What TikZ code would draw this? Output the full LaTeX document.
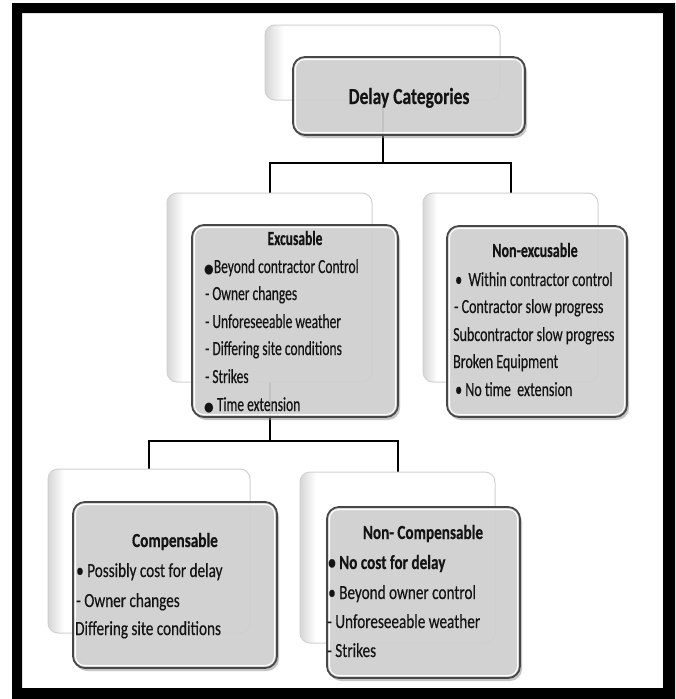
\documentclass[tikz,border=0pt]{standalone}
\usepackage{fontspec}
\setmainfont{Carlito}
\newfontfamily\fTop[FakeStretch=0.76,FakeBold=0.4]{Carlito}
\newfontfamily\fExc[FakeStretch=0.675,FakeBold=0.4]{Carlito}
\newfontfamily\fNex[FakeStretch=0.70,FakeBold=0.4]{Carlito}
\newfontfamily\fBot[FakeStretch=0.76,FakeBold=0.4]{Carlito}
\newfontfamily\fSym[FakeStretch=0.85]{DejaVu Sans}
\usetikzlibrary{shadows}
\pgfdeclarehorizontalshading{ghostshade}{100bp}{color(0bp)=(black!16); color(25bp)=(black!16); color(29bp)=(white); color(100bp)=(white)}
\newcommand{\bigdot}{{\fSym\fontsize{13}{13}\selectfont ●}}
\tikzset{
  ghost/.style={rectangle, rounded corners=10pt, shading=ghostshade, draw=black!18, line width=1pt},
  front/.style={rectangle, rounded corners=12pt, fill=black!17, fill opacity=0.88, draw=black!72, line width=1.8pt,
    drop shadow={shadow xshift=2pt, shadow yshift=-3pt, fill=black!45, opacity=0.5},
    path picture={\draw[white, line width=1pt, rounded corners=9pt]
      ([shift={(2.5pt,-2.5pt)}]path picture bounding box.north west) rectangle
      ([shift={(-2.5pt,2.5pt)}]path picture bounding box.south east);}},
  conn/.style={draw=black, line width=2pt},
  txt/.style={inner sep=0pt, anchor=base west, text=black!92},
  ttl/.style={inner sep=0pt, anchor=base, text=black!92}
}
\begin{document}
\begin{tikzpicture}[x=1pt,y=-1pt]
\useasboundingbox (0,0) rectangle (675,699);
\fill[white] (0,0) rectangle (675,699);
\fill[black, even odd rule] (12,3) rectangle (675,699) (22,13) rectangle (663,688);

% ghost boxes (positions only)
\path (382.5,62.5) node[minimum width=235, minimum height=75] (gTop) {};
\path (269.5,287.5) node[minimum width=205, minimum height=189] (gExc) {};
\path (510.5,287.5) node[minimum width=175, minimum height=189] (gNex) {};
\path (149,551) node[minimum width=202, minimum height=164] (gCom) {};
\path (397.5,557.5) node[minimum width=195, minimum height=171] (gNcm) {};

% connectors
\coordinate (b1) at (0,163);
\coordinate (b2) at (0,441);
\draw[conn] (gTop.south) |- (b1 -| gExc.north) -- (gExc.north);
\draw[conn] (gTop.south) |- (b1 -| gNex.north) -- (gNex.north);
\draw[conn] (gExc.south) |- (b2 -| gCom.north) -- (gCom.north);
\draw[conn] (gExc.south) |- (b2 -| gNcm.north) -- (gNcm.north);

% ghost boxes drawn
\node[ghost, minimum width=235, minimum height=75] (hTop) at (gTop) {};
\node[ghost, minimum width=205, minimum height=189] (hExc) at (gExc) {};
\node[ghost, minimum width=175, minimum height=189] (hNex) at (gNex) {};
\node[ghost, minimum width=202, minimum height=164] (hCom) at (gCom) {};
\node[ghost, minimum width=195, minimum height=171] (hNcm) at (gNcm) {};

% front boxes
\node[front, minimum width=232, minimum height=78] (fTop) at (409,96) {};
\node[front, minimum width=206, minimum height=192] (fExc) at (295,321) {};
\node[front, minimum width=180, minimum height=191] (fNex) at (537,321.5) {};
\node[front, minimum width=204, minimum height=166] (fCom) at (175,585) {};
\node[front, minimum width=193, minimum height=171] (fNcm) at (423.5,592.5) {};

% texts
\node[ttl, font=\fTop\fontsize{23}{23}\selectfont\bfseries] (tTop) at (409,104) {Delay Categories};

\begin{scope}[every node/.append style={font=\fExc\fontsize{20}{20}\selectfont}]
\node[ttl, font=\fExc\fontsize{20}{20}\selectfont\bfseries] (e0) at (295,245) {Excusable};
\node[txt] (e1) at (204,273) {\bigdot Beyond contractor Control};
\node[txt] (e2) at (205,300) {- Owner changes};
\node[txt] (e3) at (205,328) {- Unforeseeable weather};
\node[txt] (e4) at (205,355) {- Differing site conditions};
\node[txt] (e5) at (205,383) {- Strikes};
\node[txt] (e6) at (204,411) {\bigdot\ Time extension};
\end{scope}

\begin{scope}[every node/.append style={font=\fNex\fontsize{20}{20}\selectfont}]
\node[ttl, font=\fNex\fontsize{20}{20}\selectfont\bfseries] (n0) at (535,257) {Non-excusable};
\node[txt] (n1) at (455,286) {•\ \ Within contractor control};
\node[txt] (n2) at (454,313) {- Contractor slow progress};
\node[txt] (n3) at (453,341) {Subcontractor slow progress};
\node[txt] (n4) at (453,368) {Broken Equipment};
\node[txt] (n5) at (455,396) {• No time\ \ extension};
\end{scope}

\begin{scope}[every node/.append style={font=\fBot\fontsize{20}{20}\selectfont}]
\node[ttl, font=\fBot\fontsize{20}{20}\selectfont\bfseries] (c0) at (175,547) {Compensable};
\node[txt] (c1) at (76,577) {• Possibly cost for delay};
\node[txt] (c2) at (76,607) {- Owner changes};
\node[txt] (c3) at (75,635) {Differing site conditions};

\node[ttl, font=\fBot\fontsize{20}{20}\selectfont\bfseries] (k0) at (423,539) {Non- Compensable};
\node[txt, font=\fBot\fontsize{20}{20}\selectfont\bfseries] (k1) at (328,569) {• No cost for delay};
\node[txt] (k2) at (328,599) {• Beyond owner control};
\node[txt] (k3) at (327,628) {- Unforeseeable weather};
\node[txt] (k4) at (327,657) {- Strikes};
\end{scope}
\end{tikzpicture}
\end{document}
